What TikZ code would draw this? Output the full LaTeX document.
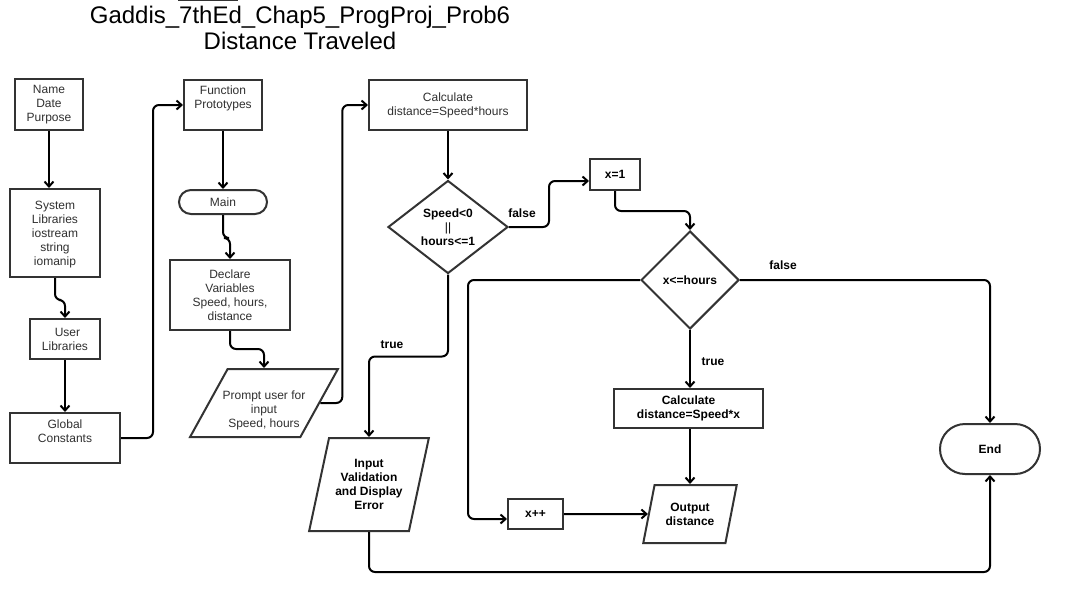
\documentclass[tikz,border=0pt]{standalone}
\usepackage{fontspec}
\setmainfont{Liberation Sans}
\usetikzlibrary{shapes.geometric,shapes.misc,arrows.meta,calc}
\definecolor{boxc}{HTML}{333333}
\definecolor{txtc}{HTML}{303030}
\begin{document}
\begin{tikzpicture}[x=1pt,y=-1pt,
  every node/.style={font=\fontsize{12}{14}\selectfont, text=txtc, align=center, inner sep=0pt},
  proc/.style={draw=boxc, line width=2pt, rectangle, fill=white},
  term/.style={draw=boxc, line width=2pt, rounded rectangle, fill=white},
  io/.style 2 args={draw=boxc, line width=2pt, trapezium, trapezium stretches=true,
     trapezium left angle=#1, trapezium right angle=#2, fill=white},
  dec/.style={draw=boxc, line width=2pt, diamond, fill=white},
  bld/.style={font=\fontsize{12}{14}\selectfont\bfseries, text=black},
  lbl/.style={font=\fontsize{12}{14}\selectfont\bfseries, text=black},
  txt/.style={align=center, text=txtc},
  conn/.style={draw=black, line width=2pt, rounded corners=6pt,
     -{Straight Barb[length=5pt,width=9pt]}}
]
\useasboundingbox (0,0) rectangle (1066,595);
\fill[white] (0,0) rectangle (1066,595);

% fragment at the top edge
\draw[boxc, line width=2pt] (178,0) -- (238,0);

% title
\node[text=black, font=\fontsize{24}{26}\selectfont] (title) at (300,28)
  {Gaddis\_7thEd\_Chap5\_ProgProj\_Prob6\\Distance Traveled};

% left column
\node[proc, minimum width=68, minimum height=51] (name) at (49,104.5) {Name\\Date\\Purpose};
\node[proc, minimum width=90, minimum height=88,
  label={[txt, yshift=-2pt]center:System\\Libraries\\iostream\\string\\iomanip}] (sys) at (55,233) {\phantom{X}};
\node[proc, minimum width=70, minimum height=40] (user) at (65,339) {\hspace*{5pt}User\\Libraries};
\node[proc, minimum width=110, minimum height=50,
  label={[txt, yshift=7pt]center:Global\\Constants}] (glob) at (65,438) {\phantom{X}};

% second column
\node[proc, minimum width=78, minimum height=50,
  label={[txt, yshift=7pt]center:Function\\Prototypes}] (fp) at (223,105) {\phantom{X}};
\node[term, minimum width=88, minimum height=24] (main) at (223,202) {Main};
\node[proc, minimum width=120, minimum height=70] (decl) at (230,295) {Declare\\Variables\\Speed, hours,\\distance};
\node[io={63.4}{116.6}, minimum width=148, minimum height=68,
  label={[txt, yshift=-7pt]center:Prompt user for\\input\\Speed, hours}] (prompt) at (264,403) {\phantom{X}};

% third column
\node[proc, minimum width=158, minimum height=50] (calc) at (448,105) {Calculate\\distance=Speed*hours};
\node[dec, bld, minimum width=120, minimum height=93] (d1) at (448,227) {Speed<0\\{\mdseries ||}\\hours<=1};
\node[io={71.6}{108.4}, bld, minimum width=120, minimum height=93] (inv) at (369,484.5) {Input\\Validation\\and Display\\Error};

% loop part
\node[proc, bld, minimum width=50, minimum height=31] (x1) at (615,174.5) {x=1};
\node[dec, bld, minimum width=98, minimum height=98] (d2) at (690,280) {x<=hours};
\node[proc, bld, minimum width=149, minimum height=39] (calcx) at (688.5,408.5) {Calculate\\distance=Speed*x};
\node[io={71}{109}, bld, minimum width=94, minimum height=58] (out) at (690,514) {Output\\distance};
\node[proc, bld, minimum width=55, minimum height=30] (xpp) at (535.5,514) {x++};
\node[term, bld, minimum width=100, minimum height=50] (end) at (990,449) {End};

% connectors
\draw[conn] (name.south) -- (name.south |- sys.north);
\draw[conn] (sys.south) -- ++(0,22) -| (user.north);
\draw[conn] (user.south) -- (user.south |- glob.north);
\draw[conn] (glob.east) -- ++(32,0) |- (fp.west);
\draw[conn] (fp.south) -- (fp.south |- main.north);
\draw[conn] (main.south) -- ++(0,23) -| (decl.north);
\draw[conn] (decl.south) -- ++(0,18) -| (prompt.north);
\draw[conn] (prompt.east) -- ++(22,0) |- (calc.west);
\draw[conn] (calc.south) -- (calc.south |- d1.north);
\draw[conn] (d1.east) -- ++(40,0) |- ([yshift=-6.5pt]x1.west);
\node[lbl] (lf1) at (522,213) {false};
\draw[conn] (x1.south) -- ++(0,20) -| (d2.north);
\draw[conn] (d1.south) -- ++(0,82) -| (inv.north);
\node[lbl] (lt1) at (392,345) {true};
\coordinate (xin) at ([yshift=-5pt]xpp.west);
\draw[conn] (d2.west) -| ([xshift=-39pt]xin) -- (xin);
\draw[conn] (d2.east) -| (end.north);
\node[lbl] (lf2) at (783,265) {false};
\draw[conn] (d2.south) -- (d2.south |- calcx.north);
\node[lbl] (lt2) at (713,362) {true};
\draw[conn] (out.north |- calcx.south) -- (out.north);
\draw[conn] (xpp.east) -- (out.west);
\draw[conn] (inv.south) -- ++(0,40) -| (end.south);
\end{tikzpicture}
\end{document}
